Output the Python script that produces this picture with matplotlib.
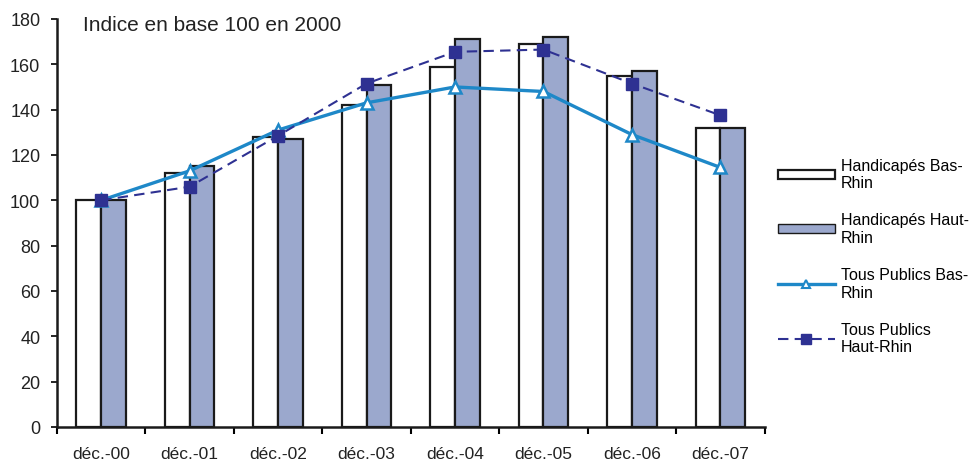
import numpy as np
import matplotlib.pyplot as plt
from matplotlib.patches import Patch
from matplotlib.lines import Line2D

plt.rcParams['font.family'] = ['Liberation Sans', 'DejaVu Sans']

mois = ['déc.-00', 'déc.-01', 'déc.-02', 'déc.-03', 'déc.-04', 'déc.-05', 'déc.-06', 'déc.-07']
hand_bas = [100, 112, 128, 142, 159, 169, 155, 132]
hand_haut = [100, 115, 127, 151, 171, 172, 157, 132]
tp_bas = [100, 113, 131, 143, 150, 148, 129, 114.5]
tp_haut = [100, 106, 128.5, 151.5, 165.5, 166.5, 151.5, 137.5]

x = np.arange(len(mois))
w = 0.28

fig = plt.figure(figsize=(9.79, 4.64), dpi=100)
ax = fig.add_axes([0.0582, 0.0776, 0.7228, 0.8794])

ax.bar(x - w/2, hand_bas, w, color='white', edgecolor='#1a1a1a', linewidth=1.6, zorder=2)
ax.bar(x + w/2, hand_haut, w, color='#9BA8CD', edgecolor='#1a1a1a', linewidth=1.6, zorder=2)
ax.plot(x, tp_bas, color='#1E88C8', lw=2.4, marker='^', ms=9, mfc='white',
        mec='#1E88C8', mew=1.8, zorder=3)
ax.plot(x, tp_haut, color='#2E3192', lw=1.5, ls=(0, (5, 3)), marker='s', ms=8,
        mfc='#2E3192', mec='#2E3192', zorder=4)

ax.set_xlim(-0.5, len(mois) - 0.5)
ax.set_ylim(0, 180)
ax.set_yticks(range(0, 181, 20))
ax.set_xticks(x)
ax.set_xticklabels(mois, fontsize=12.5, color='#222222')
ax.set_xticks(np.arange(-0.5, len(mois)), minor=True)
ax.tick_params(axis='x', which='major', length=0, pad=14)
ax.tick_params(axis='x', which='minor', length=5, width=1.5, direction='out')
ax.tick_params(axis='y', length=4, width=1.2, labelsize=13, pad=8, labelcolor='#222222')
for s in ['top', 'right']:
    ax.spines[s].set_visible(False)
for s in ['left', 'bottom']:
    ax.spines[s].set_linewidth(1.8)
    ax.spines[s].set_color('#1a1a1a')

ax.text(0.037, 1.01, 'Indice en base 100 en 2000', transform=ax.transAxes,
        fontsize=15, color='#222222', va='top')

handles = [
    Patch(facecolor='white', edgecolor='#1a1a1a', linewidth=1.6),
    Patch(facecolor='#9BA8CD', edgecolor='#1a1a1a', linewidth=1.0),
    Line2D([], [], color='#1E88C8', lw=2.4, marker='^', ms=6, mfc='white', mec='#1E88C8', mew=1.5),
    Line2D([], [], color='#2E3192', lw=1.5, ls=(0, (5, 3)), marker='s', ms=7, mfc='#2E3192'),
]
labels = ['Handicapés Bas-\nRhin', 'Handicapés Haut-\nRhin',
          'Tous Publics Bas-\nRhin', 'Tous Publics\nHaut-Rhin']
fig.legend(handles, labels, loc='upper left', bbox_to_anchor=(0.791, 0.665),
           frameon=False, fontsize=11.5, handlelength=3.6, handleheight=0.5,
           labelspacing=1.4, handletextpad=0.35, borderpad=0.2, borderaxespad=0)

fig.savefig('out.png', dpi=100)
